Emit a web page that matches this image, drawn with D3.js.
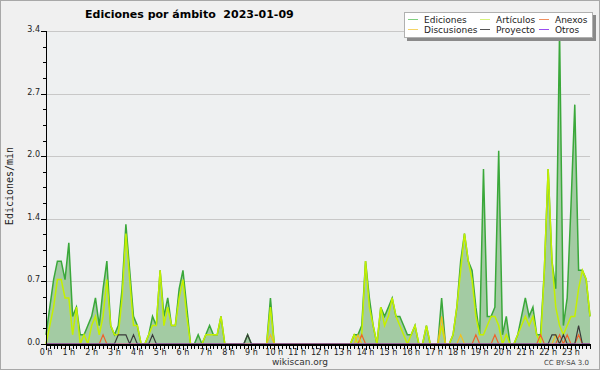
<!DOCTYPE html>
<html lang="es">

<head>
    <meta charset="UTF-8">
    <title>Ediciones por ámbito</title>

    <script src="https://d3js.org/d3.v7.min.js"></script>

    <style>
        body {
            margin: 0;
            background-color: #f0f0f0;
        }

        svg {
            display: block;
        }

        .tick-label {
            font-family: "DejaVu Sans", sans-serif;
            fill: #222;
        }
    </style>
</head>

<body>
    <svg width="600" height="370"></svg>

    <script>
        // edits per minute, one value per 10 minute slot (144 slots, 12 per row = 2 hours)
        const ediciones = [
            0.1, 0.4, 0.7, 0.9, 0.9, 0.7, 1.1, 0.3, 0.4, 0.1, 0.1, 0.2,
            0.3, 0.5, 0.2, 0.6, 0.9, 0.2, 0.1, 0.2, 0.6, 1.3, 0.8, 0.3,
            0.2, 0, 0, 0.1, 0.3, 0.2, 0.8, 0.3, 0.5, 0.2, 0.2, 0.6,
            0.8, 0.4, 0, 0, 0.1, 0, 0.1, 0.2, 0.1, 0.1, 0.3, 0,
            0, 0, 0, 0, 0, 0.1, 0, 0, 0, 0, 0, 0.5,
            0, 0, 0, 0, 0, 0, 0, 0, 0, 0, 0, 0,
            0, 0, 0, 0, 0, 0, 0, 0, 0, 0.1, 0.1, 0.2,
            0.9, 0.5, 0.2, 0, 0.4, 0.3, 0.4, 0.5, 0.3, 0.3, 0.2, 0.1,
            0.1, 0.2, 0, 0, 0.2, 0, 0, 0, 0.5, 0, 0, 0.1,
            0.4, 0.9, 1.2, 0.9, 0.8, 0.4, 0.1, 1.9, 0.3, 0.3, 0.4, 2.1,
            0.1, 0.3, 0, 0, 0.1, 0.3, 0.5, 0.3, 0.4, 0.1, 0.1, 0.8,
            1.9, 0.9, 0.6, 3.4, 0.2, 0.5, 1.5, 2.6, 0.8, 0.8, 0.7, 0.3
        ];

        const articulos = [
            0, 0.2, 0.4, 0.7, 0.7, 0.5, 0.5, 0.1, 0.4, 0, 0.1, 0,
            0.2, 0.3, 0.1, 0.3, 0.7, 0.2, 0.1, 0.1, 0.5, 1.2, 0.7, 0.2,
            0.2, 0, 0, 0.1, 0.2, 0.2, 0.8, 0.2, 0.4, 0.2, 0.2, 0.5,
            0.7, 0.3, 0, 0, 0, 0, 0.1, 0.1, 0.1, 0.1, 0.3, 0,
            0, 0, 0, 0, 0, 0, 0, 0, 0, 0, 0, 0.4,
            0, 0, 0, 0, 0, 0, 0, 0, 0, 0, 0, 0,
            0, 0, 0, 0, 0, 0, 0, 0, 0, 0.1, 0, 0.1,
            0.9, 0.4, 0.2, 0, 0.4, 0.2, 0.3, 0.5, 0.3, 0.2, 0.1, 0,
            0.1, 0.2, 0, 0, 0.2, 0, 0, 0, 0.2, 0, 0, 0.1,
            0.4, 0.8, 1.2, 0.9, 0.7, 0.3, 0.1, 0.1, 0.2, 0.3, 0.3, 0.2,
            0, 0.1, 0, 0, 0.1, 0.2, 0.3, 0.2, 0.3, 0.1, 0, 0.8,
            1.9, 0.9, 0.4, 0.2, 0.1, 0.2, 0.3, 0.3, 0.6, 0.8, 0.7, 0.3
        ];

        const anexos = [
            0, 0, 0, 0, 0, 0, 0, 0, 0, 0, 0, 0,
            0, 0, 0, 0.1, 0, 0, 0, 0, 0, 0, 0, 0,
            0, 0, 0, 0, 0, 0, 0, 0, 0, 0, 0, 0,
            0, 0, 0, 0, 0, 0, 0, 0, 0, 0, 0, 0,
            0, 0, 0, 0, 0, 0, 0, 0, 0, 0, 0, 0,
            0, 0, 0, 0, 0, 0, 0, 0, 0, 0, 0, 0,
            0, 0, 0, 0, 0, 0, 0, 0, 0, 0, 0, 0.1,
            0, 0, 0, 0, 0, 0, 0, 0, 0, 0, 0, 0,
            0, 0, 0, 0, 0, 0, 0, 0, 0, 0, 0, 0,
            0, 0, 0, 0, 0, 0.1, 0, 0, 0, 0, 0.1, 0,
            0, 0, 0, 0, 0, 0, 0, 0, 0, 0, 0.1, 0,
            0, 0, 0, 0.1, 0, 0.1, 0, 0, 0.1, 0, 0, 0
        ];

        const discusiones = [
            0, 0, 0, 0, 0, 0, 0, 0, 0, 0, 0, 0,
            0, 0, 0, 0, 0, 0, 0, 0, 0, 0, 0, 0,
            0, 0, 0, 0, 0, 0, 0, 0, 0, 0, 0, 0,
            0, 0, 0, 0, 0, 0, 0, 0, 0, 0, 0, 0,
            0, 0, 0, 0, 0, 0, 0, 0, 0, 0, 0, 0.1,
            0, 0, 0, 0, 0, 0, 0, 0, 0, 0, 0, 0,
            0, 0, 0, 0, 0, 0, 0, 0, 0, 0, 0.1, 0,
            0, 0, 0, 0, 0, 0, 0, 0, 0, 0, 0, 0,
            0, 0, 0, 0, 0, 0, 0, 0, 0.3, 0, 0, 0,
            0, 0.1, 0, 0, 0, 0, 0, 0, 0, 0, 0, 0,
            0, 0, 0, 0, 0, 0, 0, 0, 0, 0, 0, 0,
            0, 0, 0.1, 0, 0, 0, 0, 0, 0, 0, 0, 0
        ];

        const proyecto = [
            0, 0, 0, 0, 0, 0, 0, 0, 0, 0, 0, 0,
            0, 0, 0, 0, 0, 0, 0, 0.1, 0.1, 0.1, 0, 0.1,
            0, 0, 0, 0, 0.1, 0, 0, 0, 0, 0, 0, 0,
            0, 0, 0, 0, 0, 0, 0, 0, 0, 0, 0, 0,
            0, 0, 0, 0, 0, 0.1, 0, 0, 0, 0, 0, 0,
            0, 0, 0, 0, 0, 0, 0, 0, 0, 0, 0, 0,
            0, 0, 0, 0, 0, 0, 0, 0, 0, 0, 0, 0,
            0, 0, 0, 0, 0, 0, 0, 0, 0, 0, 0, 0,
            0, 0, 0, 0, 0, 0, 0, 0, 0, 0, 0, 0,
            0, 0, 0, 0, 0, 0, 0, 0, 0, 0, 0, 0,
            0, 0, 0, 0, 0, 0, 0, 0, 0, 0, 0, 0,
            0, 0.1, 0.1, 0, 0.1, 0, 0, 0, 0.2, 0, 0, 0
        ];

        const otros = new Array(144).fill(0);

        const yTicks = [0, 0.68, 1.36, 2.04, 2.72, 3.4];
        const hourLabels = ["0 h", "1 h", "2 h", "3 h", "4 h", "5 h", "6 h", "7 h", "8 h", "9 h", "10 h", "11 h",
            "12 h", "13 h", "14 h", "15 h", "16 h", "17 h", "18 h", "19 h", "20 h", "21 h", "22 h", "23 h"];

        const series = [
            { name: "Ediciones", values: ediciones, color: "#3aa83a", legend: "#80d080", width: 1.5 },
            { name: "Artículos", values: articulos, color: "#c4f000", legend: "#d6f27c", width: 1.5 },
            { name: "Anexos", values: anexos, color: "#f0622a", legend: "#f09060", width: 1.2 },
            { name: "Discusiones", values: discusiones, color: "#f0c020", legend: "#f5d466", width: 1.2 },
            { name: "Proyecto", values: proyecto, color: "#3a3a3a", legend: "#555555", width: 1.2 },
            { name: "Otros", values: otros, color: "#9a4ef0", legend: "#9a4ef0", width: 1.2 }
        ];

        const svg = d3.select("svg");
        const plotLeft = 46, plotRight = 590, plotTop = 31, plotBottom = 344;

        const x = d3.scaleLinear().domain([0, 143]).range([plotLeft, plotRight]);
        const y = d3.scaleLinear().domain([0, 3.4]).range([plotBottom, plotTop]);

        // frame
        svg.append("rect").attr("x", 0.5).attr("y", 0.5).attr("width", 599).attr("height", 369)
            .attr("fill", "#f0f0f0").attr("stroke", "#a8a8a8");
        svg.append("rect").attr("x", plotLeft).attr("y", plotTop)
            .attr("width", plotRight - plotLeft).attr("height", plotBottom - plotTop)
            .attr("fill", "#eef0f1");

        // grid
        svg.append("g").selectAll("line").data(yTicks.slice(1)).enter().append("line")
            .attr("x1", plotLeft).attr("x2", plotRight)
            .attr("y1", d => Math.round(y(d)) + 0.5).attr("y2", d => Math.round(y(d)) + 0.5)
            .attr("stroke", "#c8c8c8");

        // area + lines
        const area = d3.area().x((d, i) => x(i)).y0(y(0)).y1(d => y(d));
        svg.append("path").attr("d", area(ediciones))
            .attr("fill", "#a3cba3");

        const line = d3.line().x((d, i) => x(i)).y(d => y(d));
        svg.append("g").selectAll("path").data(series).enter().append("path")
            .attr("d", d => line(d.values))
            .attr("fill", "none")
            .attr("stroke", d => d.color)
            .attr("stroke-width", d => d.width)
            .attr("stroke-linejoin", "miter");

        // y axis
        const minor = d3.range(0, 3.41, 0.17);
        svg.append("line").attr("x1", plotLeft + 0.5).attr("x2", plotLeft + 0.5)
            .attr("y1", plotTop).attr("y2", plotBottom)
            .attr("stroke", "black");
        svg.append("g").selectAll("line").data(minor).enter().append("line")
            .attr("x1", plotLeft - 3).attr("x2", plotLeft)
            .attr("y1", d => Math.round(y(d)) + 0.5).attr("y2", d => Math.round(y(d)) + 0.5)
            .attr("stroke", "black");
        svg.append("g").selectAll("line").data(yTicks).enter().append("line")
            .attr("x1", plotLeft - 5).attr("x2", plotLeft)
            .attr("y1", d => Math.round(y(d)) + 0.5).attr("y2", d => Math.round(y(d)) + 0.5)
            .attr("stroke", "black");
        svg.append("g").selectAll("text").data(yTicks).enter().append("text")
            .attr("class", "tick-label")
            .attr("x", plotLeft - 6).attr("y", d => y(d) + 1)
            .attr("text-anchor", "end")
            .attr("font-size", "8px")
            .text(d => d3.format(".1f")(d));

        // x axis
        svg.append("line").attr("x1", plotLeft).attr("x2", plotRight + 1)
            .attr("y1", plotBottom + 1).attr("y2", plotBottom + 1)
            .attr("stroke", "black").attr("stroke-width", 2);
        svg.append("g").selectAll("line").data(d3.range(0, 144)).enter().append("line")
            .attr("x1", d => Math.round(x(d)) + 0.5).attr("x2", d => Math.round(x(d)) + 0.5)
            .attr("y1", plotBottom + 1).attr("y2", d => d % 6 === 0 ? plotBottom + 6 : plotBottom + 5)
            .attr("stroke", "black");
        svg.append("g").selectAll("text").data(hourLabels).enter().append("text")
            .attr("class", "tick-label")
            .attr("x", (d, i) => x(i * 6)).attr("y", 355)
            .attr("text-anchor", "middle")
            .attr("font-size", "8px")
            .text(d => d);

        // labels
        svg.append("text").attr("x", 85).attr("y", 18)
            .attr("font-family", "DejaVu Sans").attr("font-weight", "bold").attr("font-size", "11px")
            .attr("xml:space", "preserve")
            .text("Ediciones por ámbito  2023-01-09");

        svg.append("text").attr("transform", "translate(13,186) rotate(-90)")
            .attr("text-anchor", "middle")
            .attr("font-family", "DejaVu Sans Mono").attr("font-size", "10px").attr("fill", "#222")
            .text("Ediciones/min");

        svg.append("text").attr("x", 300).attr("y", 365).attr("text-anchor", "middle")
            .attr("font-family", "DejaVu Sans").attr("font-size", "9px").attr("fill", "#333")
            .text("wikiscan.org");

        svg.append("text").attr("x", 589).attr("y", 365).attr("text-anchor", "end")
            .attr("font-family", "DejaVu Sans").attr("font-size", "7px").attr("fill", "#444")
            .text("CC BY-SA 3.0");

        // legend
        const legend = svg.append("g");
        legend.append("rect").attr("x", 407).attr("y", 15).attr("width", 189).attr("height", 26).attr("fill", "#8a8a8a");
        legend.append("rect").attr("x", 404.5).attr("y", 12.5).attr("width", 188).attr("height", 25)
            .attr("fill", "white").attr("stroke", "#b0b0b0");

        const legendOrder = ["Ediciones", "Artículos", "Anexos", "Discusiones", "Proyecto", "Otros"];
        const colX = [408, 480, 539];
        const rowY = [19.5, 29.5];
        legendOrder.forEach(function (name, k) {
            const s = series.find(d => d.name === name);
            const cx = colX[k % 3], cy = rowY[Math.floor(k / 3)];
            legend.append("line").attr("x1", cx).attr("x2", cx + 10).attr("y1", cy).attr("y2", cy)
                .attr("stroke", s.legend).attr("stroke-width", 1);
            legend.append("text").attr("x", cx + 16).attr("y", cy + 3)
                .attr("font-family", "DejaVu Sans").attr("font-size", "9px").attr("fill", "#222")
                .text(name);
        });
    </script>
</body>
</html>
